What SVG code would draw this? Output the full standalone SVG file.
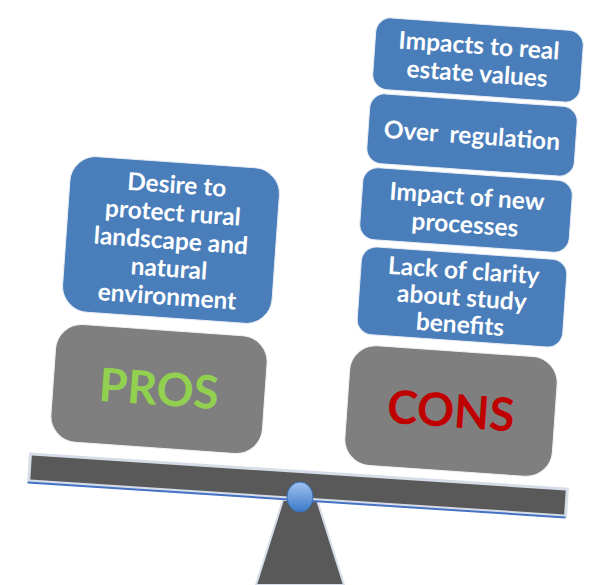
<svg xmlns="http://www.w3.org/2000/svg" width="613" height="585" viewBox="0 0 613 585">
  <defs>
    <linearGradient id="ballGrad" x1="0" y1="0" x2="0" y2="1">
      <stop offset="0" stop-color="#9EC3F0"/>
      <stop offset="1" stop-color="#3C78C8"/>
    </linearGradient>
  </defs>
  <style>
    .blue { fill: #4A7EBB; stroke: #E8EDF5; stroke-width: 1; }
    .gray { fill: #7F7F7F; stroke: #EEF1F6; stroke-width: 1; }
    .t { font-family: Lato, "Open Sans", "Liberation Sans", sans-serif; font-weight: 700; font-size: 24.5px; fill: #FFFFFF; text-anchor: middle; }
    .big { font-family: Lato, "Open Sans", "Liberation Sans", sans-serif; font-weight: 700; font-size: 46px; text-anchor: middle; }
  </style>

  <rect width="613" height="585" fill="#FFFFFF"/>

  <!-- seesaw -->
  <g id="fulcrum">
    <polygon points="283,500 317,500 344,585 256,585" fill="#595959" stroke="#D6DCE8" stroke-width="2"/>
  </g>
  <g id="beam" transform="translate(298,485) rotate(3.73)">
    <rect x="-269" y="-13.5" width="538" height="27" fill="#595959" stroke="#D6DCE8" stroke-width="3"/>
    <line x1="-270" y1="15" x2="269" y2="15" stroke="#4472C4" stroke-width="2"/>
  </g>
  <g id="pivot">
    <ellipse cx="300" cy="497" rx="13" ry="15" fill="url(#ballGrad)" stroke="#3A6FB5" stroke-width="1"/>
  </g>

  <!-- PROS side -->
  <g id="pros" transform="translate(159,389) rotate(4)">
    <rect class="gray" x="-106" y="-59" width="212" height="118" rx="26"/>
    <text class="big" x="0" y="16" fill="#92D050">PROS</text>
  </g>
  <g id="desire" transform="translate(171,240) rotate(4)">
    <rect class="blue" x="-105" y="-78" width="210" height="156" rx="26"/>
    <text class="t" x="2" y="-47">Desire to</text>
    <text class="t" x="0" y="-19">protect rural</text>
    <text class="t" x="0" y="9">landscape and</text>
    <text class="t" x="0" y="37">natural</text>
    <text class="t" x="0" y="65">environment</text>
  </g>

  <!-- CONS side -->
  <g id="cons" transform="translate(451,411) rotate(4)">
    <rect class="gray" x="-104" y="-60" width="208" height="120" rx="26"/>
    <text class="big" x="0" y="16" fill="#C00000">CONS</text>
  </g>
  <g id="lack" transform="translate(462,297) rotate(4)">
    <rect class="blue" x="-103" y="-44" width="206" height="88" rx="15"/>
    <text class="t" x="0" y="-18">Lack of clarity</text>
    <text class="t" x="0" y="9">about study</text>
    <text class="t" x="0" y="36">benefits</text>
  </g>
  <g id="impact" transform="translate(466,210) rotate(4)">
    <rect class="blue" x="-105" y="-36" width="210" height="72" rx="15"/>
    <text class="t" x="0" y="-5">Impact of new</text>
    <text class="t" x="0" y="23">processes</text>
  </g>
  <g id="over" transform="translate(472,135) rotate(4)">
    <rect class="blue" x="-104" y="-35" width="208" height="70" rx="15"/>
    <text class="t" x="0" y="9" xml:space="preserve">Over  regulation</text>
  </g>
  <g id="impacts" transform="translate(478,60) rotate(4)">
    <rect class="blue" x="-104" y="-36" width="208" height="72" rx="15"/>
    <text class="t" x="0" y="-6">Impacts to real</text>
    <text class="t" x="0" y="22">estate values</text>
  </g>
</svg>
